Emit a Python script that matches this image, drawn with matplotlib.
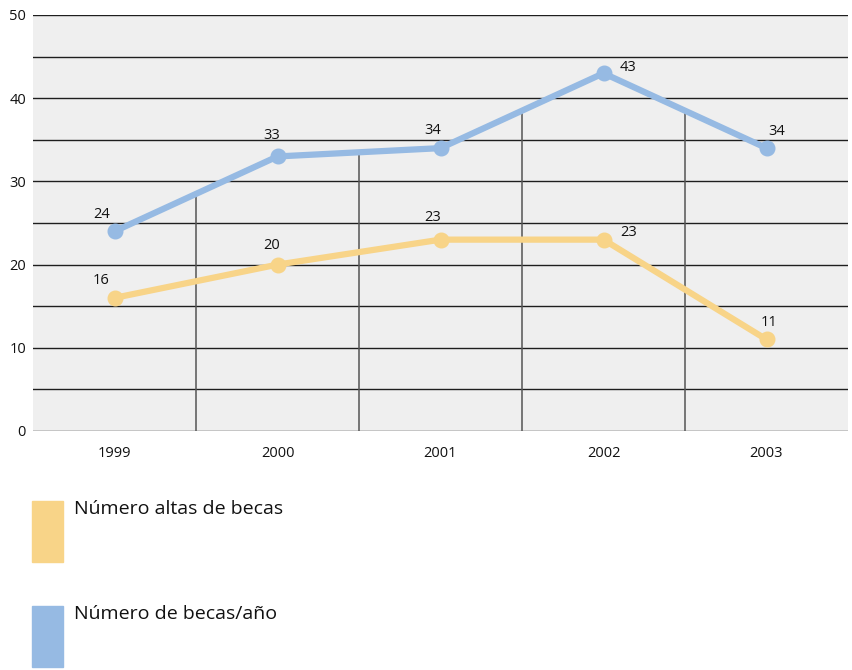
import numpy as np
import matplotlib
matplotlib.use("Agg")
import matplotlib.pyplot as plt
from matplotlib.patches import Rectangle

plt.rcParams['font.family'] = ['Open Sans', 'DejaVu Sans']

years = ['1999', '2000', '2001', '2002', '2003']
altas = [16, 20, 23, 23, 11]
becas_anio = [24, 33, 34, 43, 34]
series_names = ['Número altas de becas', 'Número de becas/año']

ORANGE = '#f8d488'
BLUE = '#96bae3'

# label offsets (pixels) for each point's value annotation
altas_offsets = [(-13, 17), (-6, 19), (-8, 22), (25, 7), (3, 17)]
becas_offsets = [(-13, 17), (-6, 21), (-8, 18), (25, 6), (10, 17)]

W, H = 853, 670
fig = plt.figure(figsize=(W / 100, H / 100), dpi=100)
ax = fig.add_axes([33 / W, 1 - 431 / H, (848 - 33) / W, (431 - 15) / H])
ax.set_facecolor('#efefef')

x = np.arange(len(years))
ax.set_xlim(-0.5, len(years) - 0.5)
ax.set_ylim(0, 50)

# horizontal rules every 5 units
for yv in range(0, 51, 5):
    ax.axhline(yv, color='#1e1e1e', lw=1.0, zorder=1)

# drop lines at category boundaries, up to the upper series
bounds = x[:-1] + 0.5
tops = np.interp(bounds, x, becas_anio)
ax.vlines(bounds, 0, tops, color='#555555', lw=1.1, zorder=1)

ax.plot(x, altas, color=ORANGE, lw=4.5, marker='o', ms=10.5, zorder=3,
        solid_capstyle='round')
ax.plot(x, becas_anio, color=BLUE, lw=4.5, marker='o', ms=10.5, zorder=3,
        solid_capstyle='round')

for xs, vals, offs in ((x, altas, altas_offsets), (x, becas_anio, becas_offsets)):
    for xi, v, (dx, dy) in zip(xs, vals, offs):
        ax.annotate(str(v), (xi, v), xytext=(dx * 0.72, dy * 0.72),
                    textcoords='offset points', ha='center', va='center',
                    fontsize=10.5, color='#111111', zorder=4)

ax.set_xticks(x)
ax.set_xticklabels(years)
ax.set_yticks(range(0, 51, 10))
ax.tick_params(axis='both', length=0, labelsize=10.5, colors='#111111')
ax.tick_params(axis='x', pad=11)
ax.tick_params(axis='y', pad=5)
for s in ax.spines.values():
    s.set_visible(False)

# legend blocks
for i, (name, col) in enumerate(zip(series_names, [ORANGE, BLUE])):
    top = 501 + i * 105
    fig.patches.append(Rectangle((32 / W, 1 - (top + 61) / H), 31 / W, 61 / H,
                                 transform=fig.transFigure, color=col))
    fig.text(74 / W, 1 - (top - 1) / H, name, ha='left', va='top',
             fontsize=14, color='#111111')

fig.savefig('out.png', dpi=100)
